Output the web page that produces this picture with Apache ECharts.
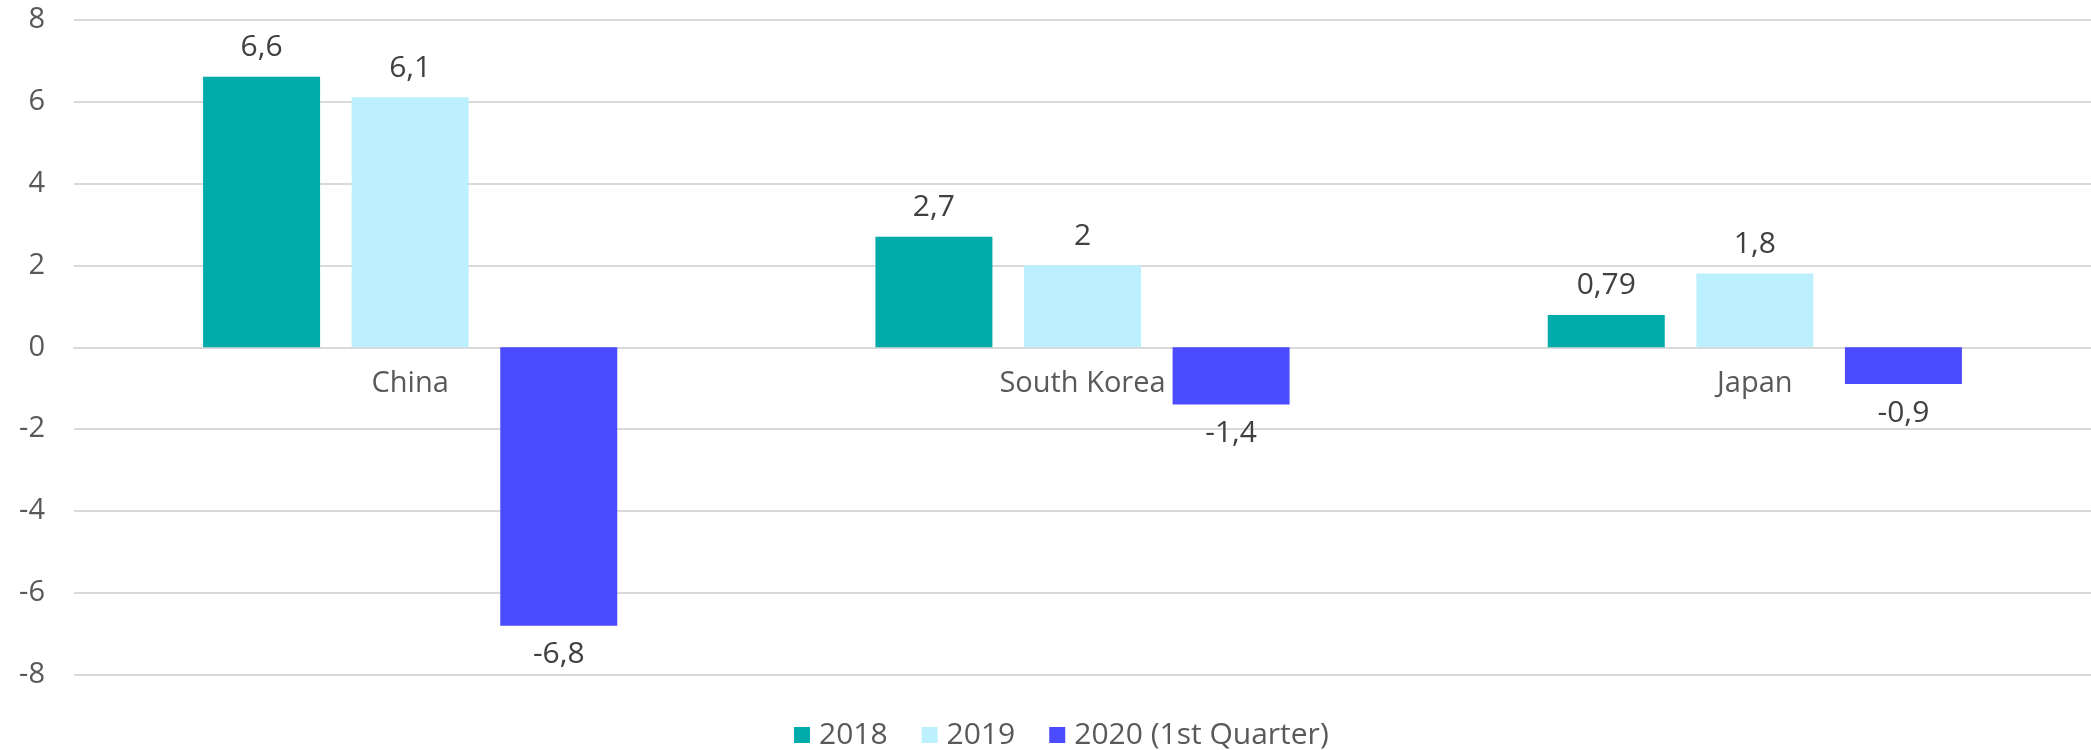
<!DOCTYPE html>
<html>
<head>
<meta charset="utf-8">
<script src="https://cdn.jsdelivr.net/npm/echarts@6/dist/echarts.min.js"></script>
<style>
  html, body { margin: 0; padding: 0; background: #fff; }
  #root { width: 2091px; height: 750px; }
</style>
</head>
<body>
<div id="root"></div>
<script>
const countries = ['China', 'South Korea', 'Japan']
const seriesNames = ['2018', '2019', '2020 (1st Quarter)']
const growth2018 = [6.6, 2.7, 0.79]
const growth2019 = [6.1, 2, 1.8]
const growth2020q1 = [-6.8, -1.4, -0.9]
const colors = ['#00abaa', '#bdf0fe', '#4b4bff']

const font = "'Open Sans', sans-serif"

const makeSeries = (name, values, color) => ({
  name: name,
  type: 'bar',
  barWidth: 117,
  barGap: '27%',
  itemStyle: { color: color },
  data: values.map(v => ({
    value: v,
    label: { position: v < 0 ? 'bottom' : 'top' }
  })),
  label: {
    show: true,
    distance: 14,
    fontFamily: font,
    fontSize: 30,
    color: '#404040',
    formatter: p => String(p.value).replace('.', ',')
  }
})

// grid spans -8..8 over 655.5px; zero line sits 327.75px above the bottom edge
const chart = echarts.init(document.getElementById('root'))
chart.setOption({
  animation: false,
  grid: { left: 74, right: 0, top: 19.5, bottom: 75, containLabel: false },
  legend: {
    left: 789,
    top: 715,
    itemWidth: 16,
    itemHeight: 16,
    itemGap: 34,
    icon: 'rect',
    textStyle: { fontFamily: font, fontSize: 30, color: '#595959', padding: [0, 0, 0, 4] },
    data: seriesNames
  },
  xAxis: {
    type: 'category',
    data: countries,
    offset: -327.75,
    axisLine: { onZero: false, lineStyle: { color: '#d9d9d9', width: 2 } },
    axisTick: { show: false },
    axisLabel: {
      interval: 0,
      margin: 22,
      fontFamily: font,
      fontSize: 29,
      color: '#595959'
    }
  },
  yAxis: {
    type: 'value',
    min: -8,
    max: 8,
    interval: 2,
    axisLine: { show: false },
    axisTick: { show: false },
    splitLine: { lineStyle: { color: '#d9d9d9', width: 2 } },
    axisLabel: {
      margin: 29,
      fontFamily: font,
      fontSize: 29,
      color: '#595959'
    }
  },
  series: [
    makeSeries(seriesNames[0], growth2018, colors[0]),
    makeSeries(seriesNames[1], growth2019, colors[1]),
    makeSeries(seriesNames[2], growth2020q1, colors[2])
  ]
})
</script>
</body>
</html>
